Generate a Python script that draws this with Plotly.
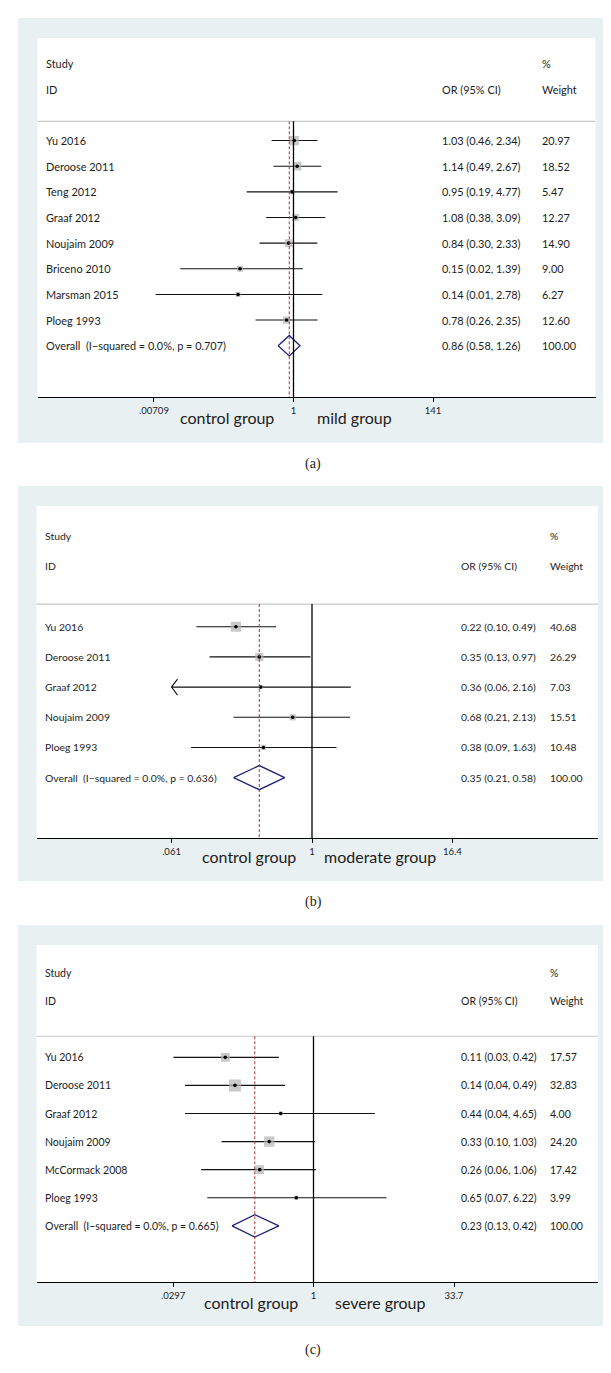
import numpy as np
import plotly.graph_objects as go

W, H = 611, 1373

# ---------------- data ----------------
studies_a = ["Yu 2016", "Deroose 2011", "Teng 2012", "Graaf 2012", "Noujaim 2009",
             "Briceno 2010", "Marsman 2015", "Ploeg 1993"]
or_a = [1.03, 1.14, 0.95, 1.08, 0.84, 0.15, 0.14, 0.78]
lo_a = [0.46, 0.49, 0.19, 0.38, 0.30, 0.018, 0.0075, 0.26]
hi_a = [2.34, 2.67, 4.77, 3.09, 2.33, 1.39, 2.78, 2.35]
w_a = [20.97, 18.52, 5.47, 12.27, 14.90, 9.00, 6.27, 12.60]
overall_a = [0.86, 0.58, 1.26]
overall_w_a = 100.00
het_a = "Overall  (I\u2212squared = 0.0%, p = 0.707)"
ticks_a = [0.00709, 1, 141]
ticklabels_a = [".00709", "1", "141"]
groups_a = ["control group", "mild group"]

studies_b = ["Yu 2016", "Deroose 2011", "Graaf 2012", "Noujaim 2009", "Ploeg 1993"]
or_b = [0.22, 0.35, 0.36, 0.68, 0.38]
lo_b = [0.10, 0.13, 0.06, 0.21, 0.09]
hi_b = [0.49, 0.97, 2.16, 2.13, 1.63]
w_b = [40.68, 26.29, 7.03, 15.51, 10.48]
overall_b = [0.35, 0.21, 0.58]
overall_w_b = 100.00
het_b = "Overall  (I\u2212squared = 0.0%, p = 0.636)"
ticks_b = [0.061, 1, 16.4]
ticklabels_b = [".061", "1", "16.4"]
groups_b = ["control group", "moderate group"]

studies_c = ["Yu 2016", "Deroose 2011", "Graaf 2012", "Noujaim 2009", "McCormack 2008", "Ploeg 1993"]
or_c = [0.11, 0.14, 0.44, 0.33, 0.26, 0.65]
lo_c = [0.03, 0.04, 0.04, 0.10, 0.06, 0.07]
hi_c = [0.42, 0.49, 4.65, 1.03, 1.06, 6.22]
w_c = [17.57, 32.83, 4.00, 24.20, 17.42, 3.99]
overall_c = [0.23, 0.13, 0.42]
overall_w_c = 100.00
het_c = "Overall  (I\u2212squared = 0.0%, p = 0.665)"
ticks_c = [0.0297, 1, 33.7]
ticklabels_c = [".0297", "1", "33.7"]
groups_c = ["control group", "severe group"]

panels = [
    dict(studies=studies_a, est=or_a, lo=lo_a, hi=hi_a, w=w_a, ov=overall_a, ovw=overall_w_a,
         het=het_a, ticks=ticks_a, ticklabels=ticklabels_a, groups=groups_a, tag="(a)"),
    dict(studies=studies_b, est=or_b, lo=lo_b, hi=hi_b, w=w_b, ov=overall_b, ovw=overall_w_b,
         het=het_b, ticks=ticks_b, ticklabels=ticklabels_b, groups=groups_b, tag="(b)"),
    dict(studies=studies_c, est=or_c, lo=lo_c, hi=hi_c, w=w_c, ov=overall_c, ovw=overall_w_c,
         het=het_c, ticks=ticks_c, ticklabels=ticklabels_c, groups=groups_c, tag="(c)"),
]

# ---------------- geometry / style (pixels) ----------------
geom = [
    dict(outer=(10, 10, 600, 435), inner=(29.5, 30, 587.5, 389), one=285.5, span=139.5,
         font=10.9, col_study=36, col_or=432, col_w=532, grp=(219, 346), grp_y=409,
         tag_y=456, box_k=2.0),
    dict(outer=(10, 478, 600, 873), inner=(28.5, 498, 590, 830), one=304, span=140.5,
         font=10.4, col_study=34.5, col_or=451, col_w=540, grp=(241, 372), grp_y=849,
         tag_y=894, box_k=1.6),
    dict(outer=(10, 917, 600, 1318), inner=(28.5, 937, 590, 1274), one=305.5, span=140.5,
         font=10.5, col_study=35, col_or=451, col_w=540, grp=(243, 372), grp_y=1294,
         tag_y=1342, box_k=2.1),
]

BG = "#e9f0f2"
TXT = "#1c1c1c"
FONT = "Lato, 'Open Sans', sans-serif"

def px(x):
    return x / W

def py(y):
    return 1 - y / H

fig = go.Figure()
shapes = []
annotations = []
layout_axes = {}

for k, (p, g) in enumerate(zip(panels, geom), start=1):
    xs = "x" if k == 1 else f"x{k}"
    ys = "y" if k == 1 else f"y{k}"
    xa = "xaxis" if k == 1 else f"xaxis{k}"
    ya = "yaxis" if k == 1 else f"yaxis{k}"
    n = len(p["studies"])
    rows = list(range(n))
    ix0, iy0, ix1, iy1 = g["inner"]
    pxdec = g["span"] / np.log10(p["ticks"][-1])
    xr = [(ix0 - g["one"]) / pxdec, (ix1 - g["one"]) / pxdec]
    row_px = (iy1 - iy0) / (n + 6)
    xmin = p["ticks"][0]

    # backgrounds
    ox0, oy0, ox1, oy1 = g["outer"]
    shapes.append(dict(type="rect", xref="paper", yref="paper", x0=px(ox0), x1=px(ox1),
                       y0=py(oy1), y1=py(oy0), fillcolor=BG, line=dict(width=0), layer="below"))
    shapes.append(dict(type="rect", xref="paper", yref="paper", x0=px(ix0), x1=px(ix1),
                       y0=py(iy1), y1=py(iy0), fillcolor="white", line=dict(width=0), layer="below"))
    # separator
    shapes.append(dict(type="line", xref=f"{xs} domain", yref=ys, x0=0, x1=1, y0=-0.75, y1=-0.75,
                       line=dict(color="#c9c9c9", width=1.2)))
    # null line
    shapes.append(dict(type="line", xref=xs, yref=ys, x0=1, x1=1, y0=-0.75, y1=n + 2,
                       line=dict(color="black", width=1.3)))
    # overall dashed line
    shapes.append(dict(type="line", xref=xs, yref=ys, x0=p["ov"][0], x1=p["ov"][0], y0=-0.75, y1=n + 2,
                       line=dict(color="#a8353a", width=1, dash="3px,2px")))

    # CI lines (clipped at axis minimum)
    cx, cy = [], []
    for i in rows:
        cx += [max(p["lo"][i], xmin), p["hi"][i], None]
        cy += [i, i, None]
    fig.add_trace(go.Scatter(x=cx, y=cy, mode="lines", line=dict(color="#111111", width=1.1),
                             xaxis=xs, yaxis=ys, hoverinfo="skip"))
    # arrows for clipped CIs
    for i in rows:
        if p["lo"][i] < xmin:
            dx = 10 ** (6 / pxdec)
            dy = 8 / row_px
            fig.add_trace(go.Scatter(x=[xmin * dx, xmin, xmin * dx], y=[i - dy, i, i + dy],
                                     mode="lines", line=dict(color="#111111", width=1.1),
                                     xaxis=xs, yaxis=ys, hoverinfo="skip"))
    # weight boxes
    fig.add_trace(go.Scatter(x=p["est"], y=rows, mode="markers",
                             marker=dict(symbol="square", color="#b3b3b3",
                                         size=[g["box_k"] * np.sqrt(v) for v in p["w"]],
                                         line=dict(width=0)),
                             xaxis=xs, yaxis=ys, hoverinfo="skip"))
    # point estimates
    fig.add_trace(go.Scatter(x=p["est"], y=rows, mode="markers",
                             marker=dict(symbol="circle", color="black", size=3.6),
                             xaxis=xs, yaxis=ys, hoverinfo="skip"))
    # overall diamond
    est, lo, hi = p["ov"]
    hh = 0.4
    fig.add_trace(go.Scatter(x=[lo, est, hi, est, lo], y=[n, n - hh, n, n + hh, n], mode="lines",
                             line=dict(color="#1f2277", width=1.3),
                             xaxis=xs, yaxis=ys, hoverinfo="skip"))

    fs = g["font"]
    def txt(x, y, s, size=fs, xref="paper", yref=ys, anchor="left", color=TXT, family=FONT):
        annotations.append(dict(x=x, y=y, xref=xref, yref=yref, text=s, showarrow=False,
                                xanchor=anchor, yanchor="middle",
                                font=dict(size=size, color=color, family=family)))

    # headers
    txt(px(g["col_study"]), -3, "Study")
    txt(px(g["col_study"]), -2, "ID")
    txt(px(g["col_or"]), -2, "OR (95% CI)")
    txt(px(g["col_w"]), -3, "%")
    txt(px(g["col_w"]), -2, "Weight")
    # rows
    for i in rows:
        txt(px(g["col_study"]), i, p["studies"][i])
        txt(px(g["col_or"]), i, f"{p['est'][i]:.2f} ({p['lo'][i]:.2f}, {p['hi'][i]:.2f})")
        txt(px(g["col_w"]), i, f"{p['w'][i]:.2f}")
    txt(px(g["col_study"]), n, p["het"])
    txt(px(g["col_or"]), n, f"{est:.2f} ({lo:.2f}, {hi:.2f})")
    txt(px(g["col_w"]), n, f"{p['ovw']:.2f}")

    # group labels below the axis
    for gx, gl in zip(g["grp"], p["groups"]):
        txt(px(gx), py(g["grp_y"]), gl, size=16, yref="paper", anchor="center")
    # panel tag
    txt(px(305), py(g["tag_y"]), p["tag"], size=14, yref="paper", anchor="center",
        family="'Liberation Serif', 'DejaVu Serif', serif")

    layout_axes[xa] = dict(type="log", range=xr, domain=[px(ix0), px(ix1)], anchor=ys,
                           showline=True, linecolor="black", linewidth=1.4,
                           ticks="outside", ticklen=4, tickwidth=1, tickcolor="black",
                           tickvals=p["ticks"], ticktext=p["ticklabels"],
                           tickfont=dict(size=9.5, color=TXT, family=FONT),
                           showgrid=False, zeroline=False, fixedrange=True)
    layout_axes[ya] = dict(range=[n + 2, -4], domain=[py(iy1), py(iy0)], anchor=xs,
                           visible=False, showgrid=False, zeroline=False, fixedrange=True)

fig.update_layout(width=W, height=H, margin=dict(l=0, r=0, t=0, b=0),
                  paper_bgcolor="white", plot_bgcolor="rgba(0,0,0,0)",
                  showlegend=False, shapes=shapes, annotations=annotations, **layout_axes)

fig.write_html("out.html")
